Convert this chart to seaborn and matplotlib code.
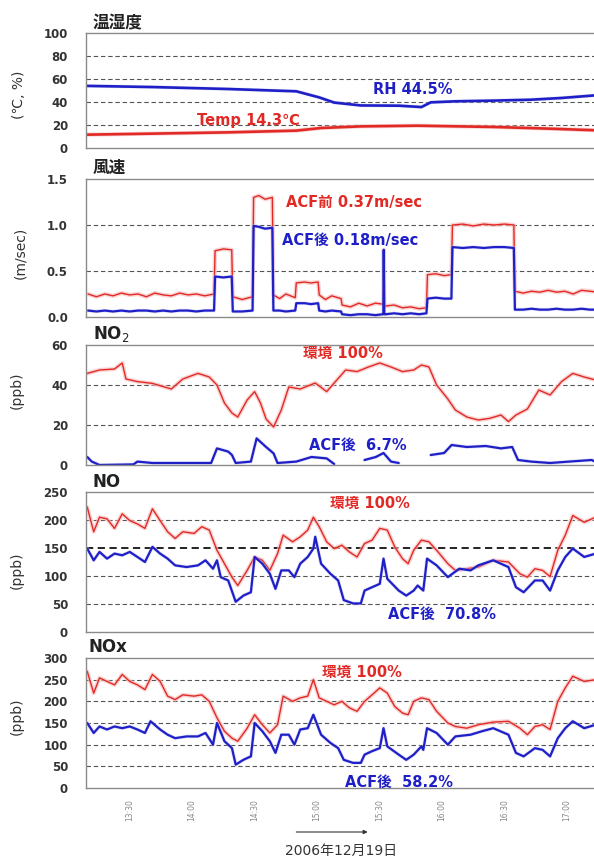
import numpy as np
import pandas as pd
import matplotlib
matplotlib.use("Agg")
import matplotlib.pyplot as plt
import seaborn as sns
from matplotlib import patheffects as pe

# ---------------- data (time = minutes after 13:00) ----------------
# temperature / humidity
th_time = [9.6, 40.9, 77.3, 110.0, 121.0, 128.2, 141.0, 159.2, 170.1, 174.6, 186.4, 204.6, 222.8, 237.4, 253.8]
rh_vals = [54.0, 53.0, 51.3, 49.3, 44.0, 39.5, 37.0, 36.8, 35.6, 39.7, 40.6, 41.2, 42.0, 43.5, 45.8]
temp_time = [9.6, 40.9, 77.3, 110.0, 122.0, 141.0, 168.3, 204.6, 231.9, 253.8]
temp_vals = [11.6, 12.5, 13.6, 15.1, 17.4, 18.8, 19.4, 18.3, 16.8, 15.4]

# wind speed before / after the ACF
wind_time = [10, 14, 18, 22, 26, 30, 34, 38, 42, 46, 50, 54, 58, 62, 66, 70.5,
             71, 75, 79,
             79.5, 84, 89,
             89.5, 92, 95, 98.5,
             99, 102, 105, 109.5,
             110, 114, 117, 120.5,
             121, 124, 127, 131.5,
             132, 136, 140, 144, 148, 151.5,
             151.8, 152.0, 152.3,
             153, 157, 161, 165, 169, 172.5,
             173, 177, 181, 184.5,
             185, 190, 195, 200, 205, 210, 214.5,
             215, 219, 223, 227, 231, 235, 239, 243, 247, 251, 255]
wind_before = [0.25, 0.22, 0.25, 0.23, 0.26, 0.24, 0.25, 0.22, 0.26, 0.24, 0.23, 0.26, 0.24, 0.25, 0.23, 0.25,
               0.72, 0.74, 0.73,
               0.22, 0.19, 0.22,
               1.30, 1.32, 1.28, 1.30,
               0.24, 0.20, 0.25, 0.21,
               0.37, 0.38, 0.37, 0.38,
               0.24, 0.19, 0.23, 0.20,
               0.13, 0.11, 0.15, 0.12, 0.15, 0.14,
               0.14, 0.73, 0.12,
               0.12, 0.13, 0.10, 0.11, 0.09, 0.10,
               0.46, 0.47, 0.45, 0.46,
               1.00, 1.01, 0.99, 1.01, 1.00, 1.01, 1.00,
               0.28, 0.26, 0.28, 0.27, 0.29, 0.27, 0.28, 0.25, 0.29, 0.28, 0.27]
wind_after = [0.07, 0.06, 0.07, 0.06, 0.07, 0.06, 0.07, 0.07, 0.06, 0.07, 0.06, 0.07, 0.07, 0.06, 0.07, 0.07,
              0.44, 0.43, 0.44,
              0.06, 0.06, 0.07,
              0.99, 0.98, 0.96, 0.97,
              0.07, 0.07, 0.06, 0.07,
              0.15, 0.15, 0.14, 0.15,
              0.07, 0.06, 0.07, 0.06,
              0.03, 0.02, 0.03, 0.03, 0.02, 0.03,
              0.03, 0.73, 0.03,
              0.03, 0.04, 0.03, 0.04, 0.03, 0.04,
              0.20, 0.21, 0.20, 0.20,
              0.76, 0.75, 0.76, 0.75, 0.76, 0.76, 0.75,
              0.08, 0.08, 0.09, 0.08, 0.08, 0.09, 0.08, 0.08, 0.09, 0.08, 0.08]

# NO2
no2_env_time = [9.6, 15.5, 22.7, 26.4, 28.2, 33.7, 40.9, 50.0, 55.5, 62.8, 68.2, 71.9, 75.5, 79.1, 81.9,
                86.4, 90.0, 92.8, 95.5, 99.1, 102.8, 106.4, 111.9, 119.1, 124.6, 128.2, 133.7, 139.2,
                144.6, 150.1, 155.5, 161.0, 166.4, 170.1, 173.7, 177.4, 182.8, 186.4, 191.9, 197.4,
                202.8, 208.3, 211.9, 215.5, 221.0, 226.5, 231.9, 237.4, 242.8, 248.3, 253.8]
no2_env = [45.8, 47.5, 48.0, 51.0, 43.0, 41.7, 40.8, 38.0, 43.0, 45.8, 44.0, 40.0, 31.0, 26.0, 24.0,
           32.5, 36.7, 31.0, 23.0, 19.0, 27.5, 39.0, 38.0, 41.0, 36.7, 41.0, 47.5, 46.7,
           49.0, 51.0, 49.0, 46.7, 47.5, 50.0, 49.0, 40.0, 33.0, 27.5, 24.0, 22.5,
           23.3, 25.0, 21.7, 25.0, 28.0, 37.5, 35.0, 41.7, 45.8, 44.0, 42.5]
no2_acf_time = [9.6, 11.8, 15.5, 31.8, 33.7, 40.9, 50.0, 59.1, 69.1, 71.9, 77.3, 79.1, 80.9, 88.2,
                90.95, 95.5, 99.1, 101.0, 110.0, 117.3, 124.6, 128.2, 135.0, 142.8, 148.2, 151.9,
                155.5, 159.2, 166.0, 174.6, 181.0, 184.6, 191.9, 201.0, 208.3, 213.7, 216.5, 222.8,
                231.9, 241.0, 251.9, 253.8]
no2_acf = [4.0, 1.7, 0.0, 0.3, 1.7, 1.0, 1.0, 1.0, 1.0, 8.3, 6.7, 5.0, 1.0, 1.7,
           13.3, 9.0, 5.8, 1.0, 1.7, 4.0, 3.3, 0.5, np.nan, 2.5, 4.0, 6.0,
           1.7, 1.0, np.nan, 5.0, 6.0, 10.0, 9.0, 9.5, 8.3, 9.0, 2.5, 1.7,
           1.0, 1.7, 2.5, 1.5]

# NO
no_env_time = [9.6, 12.7, 15.5, 19.1, 22.7, 26.4, 30.0, 33.7, 37.3, 40.9, 44.6, 48.2, 51.8, 55.5, 60.9,
               64.6, 68.2, 71.9, 75.5, 79.1, 81.9, 86.4, 90.0, 93.7, 97.3, 101.0, 103.7, 108.2, 111.9,
               115.5, 118.2, 121.0, 124.6, 128.2, 131.9, 135.5, 139.2, 142.8, 146.4, 150.1, 153.7,
               157.3, 161.0, 163.7, 166.4, 170.1, 173.7, 177.4, 182.8, 186.4, 191.9, 197.4, 204.6,
               211.9, 217.4, 221.0, 224.6, 228.3, 231.9, 235.6, 239.2, 242.8, 248.3, 253.8]
no_env = [223, 179, 205, 202, 185, 211, 199, 193, 185, 220, 199, 179, 167, 179, 176,
          188, 182, 146, 122, 98, 83, 110, 134, 128, 110, 140, 173, 161, 170,
          182, 205, 188, 161, 149, 155, 143, 134, 158, 164, 185, 182,
          152, 131, 122, 146, 164, 161, 146, 122, 110, 113, 116, 128,
          125, 104, 98, 113, 110, 99, 146, 173, 208, 196, 205]
no_acf_time = [9.6, 12.7, 15.5, 19.1, 22.7, 26.4, 30.0, 33.7, 37.3, 40.9, 44.6, 48.2, 51.8, 57.3, 62.8,
               66.4, 70.0, 71.9, 73.7, 77.3, 80.9, 84.6, 88.2, 90.0, 93.7, 97.3, 100.0, 102.8, 106.4,
               109.1, 111.9, 115.5, 118.2, 119.1, 121.9, 126.4, 130.1, 132.8, 137.3, 141.0, 142.8,
               146.4, 150.1, 151.9, 153.7, 159.2, 162.8, 166.4, 168.3, 171.0, 172.8, 177.4, 182.8,
               188.3, 193.7, 197.4, 204.6, 211.9, 215.5, 219.2, 224.6, 228.3, 231.9, 235.6, 239.2,
               242.8, 248.3, 253.8]
no_acf = [149, 128, 143, 131, 140, 137, 143, 134, 125, 152, 140, 131, 119, 116, 119,
          128, 113, 128, 98, 92, 54, 65, 71, 134, 122, 104, 77, 110, 110,
          98, 122, 134, 149, 170, 122, 104, 92, 57, 51, 51, 74,
          80, 86, 131, 95, 74, 65, 74, 83, 74, 131, 119, 98,
          113, 110, 119, 128, 116, 80, 71, 92, 92, 74, 110, 134,
          149, 134, 140]

# NOx
nox_env_time = no_env_time
nox_env = [269, 219, 254, 246, 238, 262, 246, 238, 227, 262, 246, 212, 204, 215, 212,
           215, 200, 162, 131, 115, 108, 138, 169, 146, 127, 146, 212, 200, 208,
           212, 250, 208, 200, 192, 200, 185, 177, 200, 215, 231, 219,
           188, 173, 169, 200, 208, 204, 177, 150, 142, 138, 146, 152,
           154, 138, 123, 142, 146, 135, 200, 231, 258, 246, 250]
nox_acf_time = [9.6, 12.7, 15.5, 19.1, 22.7, 26.4, 30.0, 33.7, 37.3, 40.0, 44.6, 48.2, 51.8, 57.3, 62.8,
                66.4, 70.0, 71.9, 75.5, 79.1, 80.9, 84.6, 88.2, 90.0, 93.7, 97.3, 100.0, 102.8, 106.4,
                109.1, 111.9, 115.5, 118.2, 121.9, 126.4, 130.1, 132.8, 137.3, 141.0, 142.8, 146.4,
                150.1, 151.9, 153.7, 159.2, 162.8, 166.4, 170.1, 171.0, 172.8, 177.4, 182.8, 186.4,
                193.7, 199.2, 204.6, 211.9, 215.5, 219.2, 224.6, 228.3, 231.9, 235.6, 239.2, 242.8,
                248.3, 253.8]
nox_acf = [150, 127, 142, 135, 142, 138, 142, 135, 127, 154, 135, 123, 115, 119, 119,
           127, 100, 150, 108, 92, 54, 65, 73, 150, 131, 108, 81, 123, 123,
           100, 135, 138, 169, 123, 104, 92, 65, 58, 58, 77, 85,
           92, 138, 96, 77, 65, 77, 96, 88, 138, 127, 100, 119,
           123, 131, 138, 123, 81, 73, 92, 88, 73, 115, 138, 154,
           138, 146]

tick_times = [30, 60, 90, 120, 150, 180, 210, 240]
tick_labels = ["13:30", "14:00", "14:30", "15:00", "15:30", "16:00", "16:30", "17:00"]

# ---------------- styling ----------------
sns.set_theme(style="white")
plt.rcParams["font.family"] = ["DejaVu Sans", "Noto Sans CJK JP"]

RED = "#e12a25"
BLUE = "#1f1fc8"
W, H = 594, 861
fig = plt.figure(figsize=(W / 100, H / 100), dpi=100)

AX_LEFT, AX_RIGHT = 86, 600
XMIN = 9.0
XMAX = XMIN + (AX_RIGHT - AX_LEFT) * 0.4803


def make_ax(top, bottom):
    return fig.add_axes([AX_LEFT / W, 1 - bottom / H, (AX_RIGHT - AX_LEFT) / W, (bottom - top) / H])


red_fx = [pe.Stroke(linewidth=3.0, foreground="#f8c0c0", alpha=0.7), pe.Normal()]
blue_fx = [pe.Stroke(linewidth=2.6, foreground="#c4c4f0", alpha=0.5), pe.Normal()]


def draw(ax, t, v, color, lw, fx):
    df = pd.DataFrame({"t": t, "v": v})
    df["seg"] = df["v"].isna().cumsum()
    df = df.dropna()
    sns.lineplot(data=df, x="t", y="v", units="seg", estimator=None, color=color,
                 linewidth=lw, ax=ax, legend=False)
    for ln in ax.get_lines()[-df["seg"].nunique():]:
        ln.set_path_effects(fx)


def style(ax, ymax, yticks, ylabels, grids, dark=()):
    ax.set_xlim(XMIN, XMAX)
    ax.set_ylim(0, ymax)
    ax.set_yticks(yticks)
    ax.set_yticklabels(ylabels)
    ax.set_xlabel("")
    ax.set_ylabel("")
    ax.set_xticks(tick_times)
    ax.set_xticklabels([])
    ax.tick_params(axis="both", length=0)
    ax.tick_params(axis="y", pad=13, labelsize=8.5, labelcolor="#333333")
    for lab in ax.get_yticklabels():
        lab.set_fontweight("bold")
    for g in grids:
        ax.axhline(g, color="#555555", lw=0.8, ls=(0, (4, 2.5)), zorder=1)
    for g in dark:
        ax.axhline(g, color="#111111", lw=1.3, ls=(0, (4, 2.5)), zorder=1)
    for s in ax.spines.values():
        s.set_color("#8a8a8a")
        s.set_linewidth(1.0)


def ftext(x, y, s, **kw):
    fig.text(x / W, 1 - y / H, s, **kw)


# panel 1: temperature / humidity
ax1 = make_ax(33, 148)
draw(ax1, th_time, rh_vals, BLUE, 1.9, blue_fx)
draw(ax1, temp_time, temp_vals, RED, 1.9, red_fx)
style(ax1, 100, [0, 20, 40, 60, 80, 100], ["0", "20", "40", "60", "80", "100"], [20, 40, 60, 80])

# panel 2: wind speed
ax2 = make_ax(179, 317)
draw(ax2, wind_time, wind_before, RED, 1.0, red_fx)
draw(ax2, wind_time, wind_after, BLUE, 1.6, blue_fx)
style(ax2, 1.5, [0, 0.5, 1.0, 1.5], ["0.0", "0.5", "1.0", "1.5"], [0.5, 1.0])

# panel 3: NO2
ax3 = make_ax(345, 465)
draw(ax3, no2_env_time, no2_env, RED, 1.0, red_fx)
draw(ax3, no2_acf_time, no2_acf, BLUE, 1.6, blue_fx)
style(ax3, 60, [0, 20, 40, 60], ["0", "20", "40", "60"], [20, 40])

# panel 4: NO
ax4 = make_ax(492, 632)
draw(ax4, no_env_time, no_env, RED, 1.0, red_fx)
draw(ax4, no_acf_time, no_acf, BLUE, 1.6, blue_fx)
style(ax4, 250, [0, 50, 100, 150, 200, 250], ["0", "50", "100", "150", "200", "250"],
      [50, 100, 200], dark=[150])

# panel 5: NOx
ax5 = make_ax(658, 788)
draw(ax5, nox_env_time, nox_env, RED, 1.0, red_fx)
draw(ax5, nox_acf_time, nox_acf, BLUE, 1.6, blue_fx)
style(ax5, 300, [0, 50, 100, 150, 200, 250, 300], ["0", "50", "100", "150", "200", "250", "300"],
      [50, 100, 150, 200, 250])
ax5.set_xticklabels(tick_labels, rotation=90, fontsize=5.5, color="#888888")
ax5.tick_params(axis="x", pad=8)

# panel titles
title_kw = dict(fontsize=12, fontweight="bold", color="#222222", va="center", ha="left")
ftext(93, 23, "温湿度", **title_kw)
ftext(93, 168, "風速", **title_kw)
ftext(93, 334, "NO$_2$", **title_kw)
ftext(93, 482, "NO", **title_kw)
ftext(88, 647, "NOx", **title_kw)

# axis captions
yl_kw = dict(fontsize=10, color="#333333", rotation=90, ha="center", va="center")
ftext(19, 95, "(℃, %)", **yl_kw)
ftext(20, 253, "(m/sec)", **yl_kw)
ftext(17, 390, "(ppb)", **yl_kw)
ftext(17, 570, "(ppb)", **yl_kw)
ftext(17, 716, "(ppb)", **yl_kw)

# series annotations
ann_kw = dict(fontsize=10.5, fontweight="bold", va="center", ha="left")
ftext(373, 90, "RH 44.5%", color=BLUE, **ann_kw)
ftext(197, 121, "Temp 14.3℃", color=RED, **ann_kw)
ftext(286, 202, "ACF前 0.37m/sec", color=RED, **ann_kw)
ftext(282, 240, "ACF後 0.18m/sec", color=BLUE, **ann_kw)
ftext(303, 353, "環境 100%", color=RED, **ann_kw)
ftext(309, 445, "ACF後  6.7%", color=BLUE, **ann_kw)
ftext(330, 503, "環境 100%", color=RED, **ann_kw)
ftext(388, 614, "ACF後  70.8%", color=BLUE, **ann_kw)
ftext(322, 672, "環境 100%", color=RED, **ann_kw)
ftext(345, 782, "ACF後  58.2%", color=BLUE, **ann_kw)

# date caption with arrow
ftext(341, 851, "2006年12月19日", fontsize=10, color="#333333", ha="center", va="center")
fig.add_artist(matplotlib.patches.FancyArrowPatch(
    (293.5 / W, 1 - 832 / H), (370.5 / W, 1 - 832 / H), transform=fig.transFigure,
    arrowstyle="-|>", mutation_scale=6, lw=0.8, color="#333333"))

fig.savefig("out.png", dpi=100)
